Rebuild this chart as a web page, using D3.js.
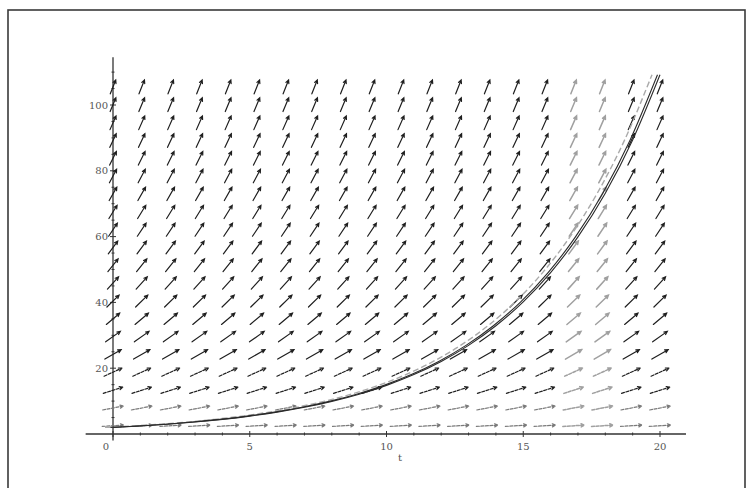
<!DOCTYPE html>
<html><head><meta charset="utf-8">
<script src="https://cdn.jsdelivr.net/npm/d3@7"></script>
<style>html,body{margin:0;padding:0;background:#fff;}</style>
</head><body>
<svg id="c" width="753" height="488"></svg>
<script>
// Direction field of dy/dt = 0.2*y with the solution through y(0)=2
const tGrid = [0, 1.05, 2.11, 3.16, 4.21, 5.26, 6.32, 7.37, 8.42, 9.47, 10.53, 11.58, 12.63, 13.68, 14.74, 15.79, 16.84, 17.89, 18.95, 20];
const yGrid = [2.5, 7.9, 13.3, 18.8, 24.2, 29.6, 35.0, 40.4, 45.9, 51.3, 56.7, 62.1, 67.5, 73.0, 78.4, 83.8, 89.2, 94.6, 100.1, 105.5];
const rowSlopes = [0.5, 1.58, 2.66, 3.76, 4.84, 5.92, 7.0, 8.08, 9.18, 10.26, 11.34, 12.42, 13.5, 14.6, 15.68, 16.76, 17.84, 18.92, 20.02, 21.1];
const curveT = [0, 1, 2, 3, 4, 5, 6, 7, 8, 9, 10, 11, 12, 13, 14, 15, 16, 17, 18, 19, 20];
const curveY = [2, 2.44, 2.98, 3.64, 4.45, 5.44, 6.64, 8.11, 9.91, 12.1, 14.78, 18.05, 22.05, 26.93, 32.89, 40.17, 49.06, 59.92, 73.19, 89.39, 109.2];
const xTicks = [0, 5, 10, 15, 20];
const yTicks = [20, 40, 60, 80, 100];

const svg = d3.select("#c");
const x = d3.scaleLinear().domain([0, 20]).range([113, 660]);
const y = d3.scaleLinear().domain([0, 100]).range([434, 105]);

// frame
svg.append("rect").attr("x", 8).attr("y", 10).attr("width", 737).attr("height", 500)
  .attr("fill", "none").attr("stroke", "#3a3a3a").attr("stroke-width", 1.6);

// axes
const ax = svg.append("g").attr("stroke", "#333").attr("stroke-width", 1.3);
ax.append("line").attr("x1", x(-1)).attr("x2", x(20.95)).attr("y1", y(0)).attr("y2", y(0));
ax.append("line").attr("x1", x(0)).attr("x2", x(0)).attr("y1", y(-2)).attr("y2", y(114.5));
d3.range(0, 21).forEach(t => {
  const major = t % 5 === 0;
  ax.append("line").attr("x1", x(t)).attr("x2", x(t)).attr("y1", y(0) - (major ? 3 : 1.5)).attr("y2", y(0) + (major ? 3 : 1.5)).attr("stroke-width", 1);
});
d3.range(5, 115, 5).forEach(v => {
  const major = v % 20 === 0;
  ax.append("line").attr("x1", x(0) - (major ? 3 : 1.5)).attr("x2", x(0) + (major ? 3 : 1.5)).attr("y1", y(v)).attr("y2", y(v)).attr("stroke-width", 1);
});

const lab = svg.append("g").attr("font-family", "DejaVu Serif, serif").attr("font-size", 10).attr("fill", "#555");
xTicks.forEach(t => {
  lab.append("text").attr("x", t === 0 ? x(t) - 7 : x(t)).attr("y", 450).attr("text-anchor", "middle").text(t);
});
yTicks.forEach(v => {
  lab.append("text").attr("x", x(0) - 5).attr("y", y(v) + 3.5).attr("text-anchor", "end").text(v);
});
lab.append("text").attr("x", 400).attr("y", 461).attr("text-anchor", "middle").text("t");

// direction field arrows
const L = 0.0395, W = 547, H = 362;
const field = svg.append("g").attr("fill", "none").attr("stroke-linecap", "round");
yGrid.forEach((yv, j) => {
  const f = rowSlopes[j];
  const ux = 1 / 20, uy = f / 110, n = Math.hypot(ux, uy);
  const dx = L * W * ux / n, dy = -L * H * uy / n;
  tGrid.forEach((tv, i) => {
    const cx = x(tv), cy = y(yv);
    const gray = (i === 16 || i === 17);
    const col = gray ? "#a0a0a0" : (j < 2 ? "#7a7a7a" : "#1e1e1e");
    const x1 = cx - dx / 2, y1 = cy - dy / 2, x2 = cx + dx / 2, y2 = cy + dy / 2;
    const len = Math.hypot(dx, dy), ex = dx / len, ey = dy / len;
    const hl = 3.6, a = 0.45;
    const b1x = x2 - hl * (ex * Math.cos(a) - ey * Math.sin(a)), b1y = y2 - hl * (ey * Math.cos(a) + ex * Math.sin(a));
    const b2x = x2 - hl * (ex * Math.cos(-a) - ey * Math.sin(-a)), b2y = y2 - hl * (ey * Math.cos(-a) + ex * Math.sin(-a));
    field.append("path")
      .attr("d", `M${x1},${y1}L${x2},${y2}M${b1x},${b1y}L${x2},${y2}L${b2x},${b2y}`)
      .attr("stroke", col).attr("stroke-width", gray ? 1.5 : 1.2)
      .attr("stroke-dasharray", j < 4 ? "3,1.5" : null);
  });
});

// solution curve (drawn doubled like the print)
const pts = curveT.map((t, i) => [t, curveY[i]]);
const line = d3.line().x(d => x(d[0])).y(d => y(d[1])).curve(d3.curveMonotoneX);
svg.append("path").attr("d", line(pts)).attr("fill", "none").attr("stroke", "#aaa")
  .attr("stroke-width", 1.4).attr("stroke-dasharray", "6,3").attr("transform", "translate(-8,0)");
svg.append("path").attr("d", line(pts)).attr("fill", "none").attr("stroke", "#2a2a2a").attr("stroke-width", 1.1)
  .attr("transform", "translate(-2.5,0)");
svg.append("path").attr("d", line(pts)).attr("fill", "none").attr("stroke", "#2a2a2a").attr("stroke-width", 1.1);
</script>
</body></html>
